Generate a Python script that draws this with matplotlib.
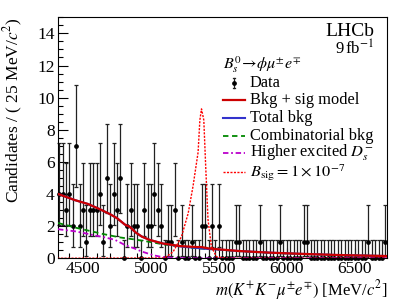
import numpy as np
import matplotlib.pyplot as plt
from matplotlib.ticker import MultipleLocator

plt.rcParams['font.family'] = ['Liberation Serif', 'DejaVu Serif']
plt.rcParams['mathtext.fontset'] = 'stix'

# binning of the mass spectrum (25 MeV bins)
m_lo, m_hi, bin_w = 4312.5, 6737.5, 25

# candidates per bin
counts = [4, 4, 3, 4, 2, 7, 2, 3, 1, 3, 3, 3, 4, 1, 5, 2, 4, 3, 5, 0,
          2, 3, 2, 2, 0, 3, 2, 2, 4, 3, 2, 0, 1, 1, 3, 0, 1, 0, 0, 1,
          0, 0, 2, 2, 0, 2, 0, 2, 0, 0, 0, 0, 1, 1, 0, 0, 0, 0, 0, 1,
          0, 0, 0, 0, 0, 1, 0, 0, 0, 0, 0, 0, 1, 1, 0, 0, 0, 0, 0, 0,
          0, 0, 0, 0, 0, 0, 0, 0, 0, 0, 0, 1, 0, 0, 0, 0, 1]

# 68% Poisson intervals for n = 0..7
pois_lo = [0, 0.173, 0.708, 1.367, 2.086, 2.840, 3.620, 4.419]
pois_hi = [1.148, 3.300, 4.638, 5.918, 7.163, 8.382, 9.584, 10.77]

# fit curves (mass, candidates per bin)
model_m = [4318, 4441, 4537, 4625, 4698, 4750, 4808, 4845, 4889, 4933, 4992,
           5088, 5213, 5338, 5370, 5420, 5507, 5653, 5874, 6094, 6388, 6737]
model_y = [4.0, 3.62, 3.38, 3.05, 2.75, 2.5, 2.1, 1.95, 1.6, 1.35, 1.14,
           0.92, 0.76, 0.70, 0.70, 0.62, 0.55, 0.45, 0.35, 0.28, 0.2, 0.14]
bkg_y = [4.0, 3.62, 3.38, 3.05, 2.75, 2.5, 2.1, 1.95, 1.6, 1.35, 1.14,
         0.92, 0.74, 0.64, 0.62, 0.58, 0.54, 0.45, 0.35, 0.28, 0.2, 0.14]

comb_m = [4316, 4448, 4551, 4654, 4771, 4881, 4992, 5102, 5213, 5338, 5507,
          5653, 5874, 6094, 6388, 6737]
comb_y = [2.2, 1.9, 1.7, 1.5, 1.3, 1.17, 1.02, 0.85, 0.74, 0.62, 0.53,
          0.44, 0.34, 0.27, 0.2, 0.14]

dstar_m = [4316, 4441, 4514, 4588, 4661, 4735, 4808, 4882, 4933, 4977, 5029,
           5080, 5176, 5300, 6737]
dstar_y = [1.81, 1.68, 1.56, 1.42, 1.3, 1.15, 0.83, 0.6, 0.42, 0.3, 0.17,
           0.08, 0.02, 0.0, 0.0]

sig_m = [4313, 5100, 5163, 5225, 5274, 5310, 5347, 5360, 5372, 5389, 5404,
         5420, 5445, 5482, 5550, 6737]
sig_y = [0.0, 0.02, 0.4, 1.35, 2.8, 4.5, 6.6, 8.6, 9.3, 8.6, 5.5,
         2.4, 0.72, 0.1, 0.0, 0.0]

counts = np.array(counts)
centers = np.arange(m_lo + bin_w / 2, m_hi, bin_w)
lo_err = counts - np.array(pois_lo)[counts]
hi_err = np.array(pois_hi)[counts] - counts

fig = plt.figure(figsize=(4.07, 3.01), dpi=100)
ax = fig.add_axes([0.1413, 0.1419, 0.8097, 0.8006])

ax.errorbar(centers, counts, yerr=[lo_err, hi_err], fmt='o', color='black',
            ecolor='#222222', markersize=2.4, elinewidth=0.9, capsize=1.3,
            capthick=0.9, zorder=2, clip_on=False)

ax.plot(dstar_m, dstar_y, color='#bb00cc', lw=1.3, dashes=(3, 1.5, 1, 1.5), zorder=3)
ax.plot(comb_m, comb_y, color='#008800', lw=1.3, dashes=(3, 2), zorder=3)
ax.plot(model_m, bkg_y, color='#3333cc', lw=1.5, zorder=3)
ax.plot(model_m, model_y, color='#cc0000', lw=1.6, zorder=4)
ax.plot(sig_m, sig_y, color='#ff0000', lw=1.0, dashes=(1.5, 1), zorder=4)

ax.set_xlim(m_lo, m_hi)
ax.set_ylim(0, 15)
ax.xaxis.set_major_locator(MultipleLocator(500))
ax.xaxis.set_minor_locator(MultipleLocator(100))
ax.yaxis.set_major_locator(MultipleLocator(2))
ax.yaxis.set_minor_locator(MultipleLocator(0.5))
ax.tick_params(which='both', direction='in', top=False, right=False, labelsize=12.5, pad=2)
ax.tick_params(which='major', length=7, width=0.8)
ax.tick_params(which='minor', length=3.5, width=0.8)
for s in ax.spines.values():
    s.set_linewidth(0.8)

ax.set_xlabel(r'$m(K^{+}K^{-}\mu^{\pm}e^{\mp})$ [MeV/$c^{2}$]', fontsize=12, loc='right')
ax.xaxis.set_label_coords(1.0, -0.08)
ax.set_ylabel(r'Candidates / ( 25 MeV/$c^{2}$)', fontsize=12.5, loc='top')
ax.yaxis.set_label_coords(-0.1, 1.0)

ax.text(0.961, 0.943, 'LHCb', transform=ax.transAxes, ha='right', va='center', fontsize=14)
ax.text(0.961, 0.868, r'9$\,$fb$^{-1}$', transform=ax.transAxes, ha='right', va='center', fontsize=12)

# legend
x0, x1, xt = 0.502, 0.569, 0.584
ax.text(x0, 0.803, r'$B_s^0\!\rightarrow\!\phi\mu^{\pm}e^{\mp}$', transform=ax.transAxes,
        ha='left', va='center', fontsize=11.5)
ys = [0.728, 0.655, 0.582, 0.509, 0.436, 0.357]
labels = ['Data', 'Bkg + sig model', 'Total bkg', 'Combinatorial bkg',
          r'Higher excited $D_s^{-}$', r'$B_{\rm sig} = 1 \times 10^{-7}$']
xm = (x0 + x1) / 2
ax.plot([xm, xm], [ys[0] - 0.022, ys[0] + 0.022], color='#222222', lw=0.9, transform=ax.transAxes)
ax.plot([xm - 0.004, xm + 0.004], [ys[0] + 0.022] * 2, color='#222222', lw=0.9, transform=ax.transAxes)
ax.plot([xm - 0.004, xm + 0.004], [ys[0] - 0.022] * 2, color='#222222', lw=0.9, transform=ax.transAxes)
ax.plot([xm], [ys[0]], 'o', color='black', markersize=2.4, transform=ax.transAxes)
ax.plot([x0, x1], [ys[1]] * 2, color='#cc0000', lw=1.6, transform=ax.transAxes)
ax.plot([x0, x1], [ys[2]] * 2, color='#3333cc', lw=1.5, transform=ax.transAxes)
ax.plot([x0, x1], [ys[3]] * 2, color='#008800', lw=1.3, dashes=(3, 2), transform=ax.transAxes)
ax.plot([x0, x1], [ys[4]] * 2, color='#bb00cc', lw=1.3, dashes=(3, 1.5, 1, 1.5), transform=ax.transAxes)
ax.plot([x0, x1], [ys[5]] * 2, color='#ff0000', lw=1.0, dashes=(1.5, 1), transform=ax.transAxes)
for y, lab in zip(ys, labels):
    ax.text(xt, y, lab, transform=ax.transAxes, ha='left', va='center', fontsize=11.8)

fig.savefig('out.png', dpi=100)
